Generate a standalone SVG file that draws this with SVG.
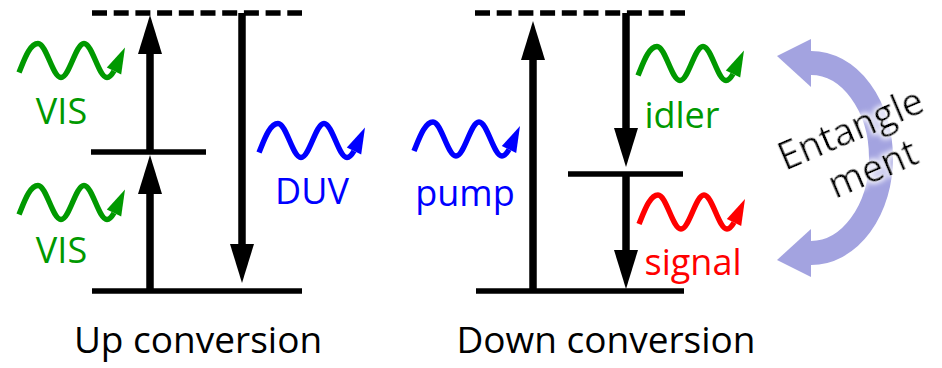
<svg xmlns="http://www.w3.org/2000/svg" xmlns:xlink="http://www.w3.org/1999/xlink" width="942" height="368" viewBox="0 0 942 368">
  <style>
    .level { stroke: #000; stroke-width: 5.5; fill: none; }
    .dash { stroke: #000; stroke-width: 5.5; stroke-dasharray: 15 6.7; fill: none; }
    .shaft { stroke: #000; stroke-width: 7.5; fill: none; marker-end: url(#head); }
    .lbl { font-family: "Open Sans", "Noto Sans", sans-serif; font-size: 36px; text-anchor: middle; }
    .title { font-family: "Open Sans", "Noto Sans", sans-serif; font-size: 37px; text-anchor: middle; fill: #000; }
    .ent { font-family: "Open Sans", "Noto Sans", sans-serif; font-size: 38px; fill: #000; filter: url(#glow); }
    .green { fill: #009900; color: #009900; }
    .blue { fill: #0000ff; color: #0000ff; }
    .red { fill: #ff0000; color: #ff0000; }
  </style>
  <defs>
    <marker id="head" markerUnits="userSpaceOnUse" markerWidth="40" markerHeight="26" refX="0" refY="12" orient="auto" viewBox="0 0 40 24">
      <path d="M0,0 L39,12 L0,24 Z" fill="#000"/>
    </marker>
    <g id="wave">
      <path d="M19,12 C24,0 29.6,-17 38,-17 C46.36,-17 52.64,17 61,17 C69.36,17 75.64,-17 84,-17 C92.36,-17 98.64,17 107,17 C110,17 112,14 114,10.5" fill="none" stroke="currentColor" stroke-width="5.5"/>
      <path d="M125,-13 L121.2,13.9 L106.8,7.1 Z" fill="currentColor"/>
    </g>
    <filter id="glow" x="-20%" y="-40%" width="140%" height="180%">
      <feMorphology in="SourceAlpha" operator="dilate" radius="1.5" result="d"/>
      <feGaussianBlur in="d" stdDeviation="2.5" result="b"/>
      <feFlood flood-color="#ffffff" flood-opacity="0.85"/>
      <feComposite in2="b" operator="in" result="w"/>
      <feMerge>
        <feMergeNode in="w"/>
        <feMergeNode in="SourceGraphic"/>
      </feMerge>
    </filter>
  </defs>

  <g id="up-conversion">
    <g id="up-virtual-level"><line class="dash" x1="92" y1="13" x2="302" y2="13"/></g>
    <g id="up-middle-level"><line class="level" x1="91" y1="152" x2="206" y2="152"/></g>
    <g id="up-ground-level"><line class="level" x1="92" y1="291" x2="302" y2="291"/></g>
    <g id="vis-photon-1" class="green">
      <use xlink:href="#wave" href="#wave" transform="translate(0,60.5)"/>
      <text class="lbl" x="61.5" y="124">VIS</text>
    </g>
    <g id="vis-photon-2" class="green">
      <use xlink:href="#wave" href="#wave" transform="translate(0,202.5)"/>
      <text class="lbl" x="61.5" y="263">VIS</text>
    </g>
    <g id="duv-photon" class="blue">
      <use xlink:href="#wave" href="#wave" transform="translate(240,140.5)"/>
      <text class="lbl" x="312" y="204">DUV</text>
    </g>
    <g id="up-title"><text class="title" x="198" y="353">Up conversion</text></g>
  </g>

  <g id="down-conversion">
    <g id="down-virtual-level"><line class="dash" x1="475" y1="13" x2="685" y2="13"/></g>
    <g id="down-middle-level"><line class="level" x1="568" y1="174" x2="683" y2="174"/></g>
    <g id="down-ground-level"><line class="level" x1="476" y1="291" x2="684" y2="291"/></g>
    <g id="pump-photon" class="blue">
      <use xlink:href="#wave" href="#wave" transform="translate(395,139)"/>
      <text class="lbl" x="465" y="205.5">pump</text>
    </g>
    <g id="idler-photon" class="green">
      <use xlink:href="#wave" href="#wave" transform="translate(619,63.5)"/>
      <text class="lbl" x="682" y="127.5">idler</text>
    </g>
    <g id="signal-photon" class="red">
      <use xlink:href="#wave" href="#wave" transform="translate(620,212)"/>
      <text class="lbl" x="693" y="275">signal</text>
    </g>
    <g id="down-title"><text class="title" x="606" y="353">Down conversion</text></g>
  </g>

  <g id="connectors">
    <line class="shaft" x1="150" y1="291" x2="150" y2="194"/>
    <line class="shaft" x1="150" y1="152" x2="150" y2="54"/>
    <line class="shaft" x1="242" y1="13" x2="242" y2="244"/>
    <line class="shaft" x1="533" y1="291" x2="533" y2="60"/>
    <line class="shaft" x1="626" y1="13" x2="626" y2="128"/>
    <line class="shaft" x1="626" y1="174" x2="626" y2="250"/>
  </g>

  <g id="entanglement">
    <path d="M811,63 A70,95 0 0 1 811,253" fill="none" stroke="#a3a3e0" stroke-width="24"/>
    <path d="M777,56 L811,39 L811,87 Z" fill="#a3a3e0"/>
    <path d="M777,260 L811,277 L811,229 Z" fill="#a3a3e0"/>
    <text class="ent" transform="translate(785,171) rotate(-23)">Entangle</text>
    <text class="ent" transform="translate(835,199) rotate(-23)">ment</text>
  </g>
</svg>
